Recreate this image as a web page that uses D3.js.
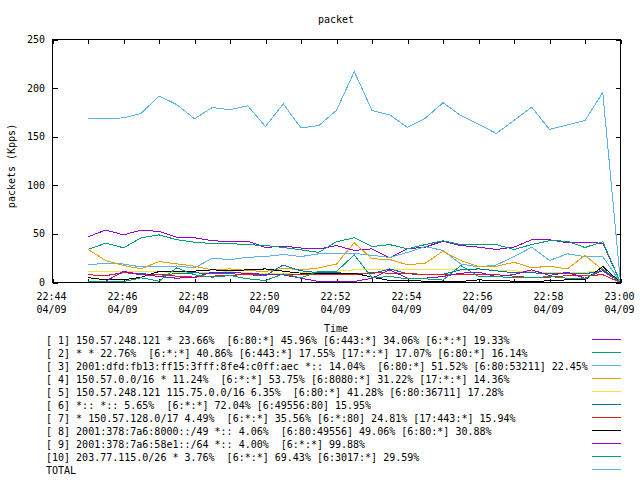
<!DOCTYPE html>
<html>
<head>
<meta charset="utf-8">
<script src="https://cdn.jsdelivr.net/npm/d3@7"></script>
<style>
  html, body { margin: 0; padding: 0; background: #fff; }
  svg { display: block; }
  text { font-family: "DejaVu Sans Mono", "Liberation Mono", monospace; font-size: 10px; fill: #000; }
</style>
</head>
<body>
<svg id="chart" width="640" height="480"></svg>
<script>
const chartTitle = "packet";
const yAxisLabel = "packets (Kpps)";
const xAxisLabel = "Time";
const dateLabel = "04/09";

const times = ["22:45:00","22:45:30","22:46:00","22:46:30","22:47:00","22:47:30","22:48:00","22:48:30",
  "22:49:00","22:49:30","22:50:00","22:50:30","22:51:00","22:51:30","22:52:00","22:52:30",
  "22:53:00","22:53:30","22:54:00","22:54:30","22:55:00","22:55:30","22:56:00","22:56:30",
  "22:57:00","22:57:30","22:58:00","22:58:30","22:59:00","22:59:30","23:00:00"];

const yTicks = [0, 50, 100, 150, 200, 250];

const s1 = [47,54,49,54,52.5,46.5,46,43,42,42.5,36,37.5,35.5,34.5,38,33,34.6,25.4,34.6,36.4,42.5,38,36.4,34,36.4,44,44,41,41,40.5,0];
const s2 = [34,40.5,35.7,46,49,44,41.5,40,40,39,38,36,33.6,31,42,46,37,39,34.6,39,43,39,39,39,34,39,43,42.5,36,42,0];
const s3 = [18,20,19,16,16.5,17,15,25,23.5,26,26.7,28.8,26.7,29.5,29.5,30,28,25.7,31,37,33,19,16,18,26.7,36.3,22.6,29.5,26.7,26.7,0];
const s4 = [34,22.6,17.5,14,21.6,19.2,16.8,13,14,12.3,11.3,14.7,13,15,19,40.8,24.4,23.7,18.2,19.9,32.2,22.6,16.5,16.5,20.9,15.1,16.8,14,27.8,13,0];
const s5 = [11,11,11,11,11,10.5,10,10.5,11,10,9,9.5,10,11,11.5,13,13,13,13,13,13,13,13,12.8,12,11,10.5,10.5,10.5,12,0];
const s6 = [8,7,10,9,8,9,10,9,9,8,7,18,12,10,10,9,9,14,9,8,8.5,13,14,12,10,10,9,9,9,12,0];
const s7 = [8,7,10.5,8,8,6.5,5.5,6.5,7.5,8,8,8.5,8.5,8,8,8,10.5,9.5,9,8.5,8.5,8.5,8,8,6.5,5,5.5,7,7,8,0];
const s8 = [5,2.7,2.7,5.5,11.3,11.3,11.7,13,12.3,13,14,11.6,9.6,9,9.6,9.6,5.5,2,2,1.4,1.4,1,2.7,2,1.4,0.5,2,2.7,2.7,16.5,0];
const s9 = [0.3,1.4,11.5,8.2,6.2,4.4,5.5,10.6,10,9.6,8.2,7.9,4.4,1,1,1,4.4,13,4.4,4.4,6.2,9.6,10.6,6.2,8.2,13,7.2,10.6,4.4,12.3,0];
const s10 = [1,1,1,4.8,1.4,15.1,7.9,5.5,7.2,3.8,2,8.9,4.8,11.6,11.3,28.5,4.8,6.2,3.8,3.8,2.5,17.5,6.2,6.2,4.8,4.8,6.2,4.4,3.8,14,0];
const total = [168.4,168.4,169.4,174,192,183,168.4,180,177.7,181.8,160.5,183.8,159,161.5,177,217,177,172.5,159.5,169,185,171.8,163,153.3,166.7,180.4,157.4,162.2,166.7,195.5,0];

const seriesNames = [
  "[ 1] 150.57.248.121 * 23.66%  [6:80:*] 45.96% [6:443:*] 34.06% [6:*:*] 19.33%",
  "[ 2] * * 22.76%  [6:*:*] 40.86% [6:443:*] 17.55% [17:*:*] 17.07% [6:80:*] 16.14%",
  "[ 3] 2001:dfd:fb13:ff15:3fff:8fe4:c0ff:aec *:: 14.04%  [6:80:*] 51.52% [6:80:53211] 22.45%",
  "[ 4] 150.57.0.0/16 * 11.24%  [6:*:*] 53.75% [6:8080:*] 31.22% [17:*:*] 14.36%",
  "[ 5] 150.57.248.121 115.75.0.0/16 6.35%  [6:80:*] 41.28% [6:80:36711] 17.28%",
  "[ 6] *:: *:: 5.65%  [6:*:*] 72.04% [6:49556:80] 15.95%",
  "[ 7] * 150.57.128.0/17 4.49%  [6:*:*] 35.56% [6:*:80] 24.81% [17:443:*] 15.94%",
  "[ 8] 2001:378:7a6:8000::/49 *:: 4.06%  [6:80:49556] 49.06% [6:80:*] 30.88%",
  "[ 9] 2001:378:7a6:58e1::/64 *:: 4.00%  [6:*:*] 99.88%",
  "[10] 203.77.115.0/26 * 3.76%  [6:*:*] 69.43% [6:3017:*] 29.59%",
  "TOTAL"
];
const seriesColors = ["#9400D3","#009E73","#56B4E9","#E69F00","#F0E442","#0072B2","#E51E10","#000000","#9400D3","#009E73","#56B4E9"];
const seriesValues = [s1, s2, s3, s4, s5, s6, s7, s8, s9, s10, total];

const svg = d3.select("#chart");
const L = 52.5, R = 620.5, T = 39.5, B = 282.5;
const parse = d3.timeParse("%H:%M:%S");
const tDates = times.map(parse);

const x = d3.scaleTime().domain([parse("22:44:00"), parse("23:00:00")]).range([L, R]);
const y = d3.scaleLinear().domain([0, 250]).range([B, T]);

// title
svg.append("text").attr("x", 336).attr("y", 23).attr("text-anchor", "middle").text(chartTitle);

// y label
svg.append("text").attr("transform", "translate(15,166) rotate(-90)").attr("text-anchor", "middle").text(yAxisLabel);

// x label
svg.append("text").attr("x", 336).attr("y", 332).attr("text-anchor", "middle").text(xAxisLabel);

const minuteTicks = d3.timeMinute.every(1).range(parse("22:44:00"), parse("23:00:30"));

// axes ticks (inward, mirrored)
const g = svg.append("g").attr("shape-rendering", "crispEdges");
g.append("g").attr("transform", `translate(0,${B})`)
  .call(d3.axisBottom(x).tickValues(minuteTicks).tickSize(-4).tickFormat(""))
  .call(a => a.select(".domain").remove());
g.append("g").attr("transform", `translate(0,${T})`)
  .call(d3.axisTop(x).tickValues(minuteTicks).tickSize(-4).tickFormat(""))
  .call(a => a.select(".domain").remove());
g.append("g").attr("transform", `translate(${L},0)`)
  .call(d3.axisLeft(y).tickValues(yTicks).tickSize(-5).tickFormat(""))
  .call(a => a.select(".domain").remove());
g.append("g").attr("transform", `translate(${R},0)`)
  .call(d3.axisRight(y).tickValues(yTicks).tickSize(-5).tickFormat(""))
  .call(a => a.select(".domain").remove());
g.selectAll(".tick line").attr("stroke", "#000");

// y tick labels
svg.selectAll(".ylab").data(yTicks).join("text")
  .attr("class", "ylab")
  .attr("x", 45).attr("y", d => y(d) + 3.5)
  .attr("text-anchor", "end")
  .text(d => d);

// x tick labels every 2 minutes
const labelTicks = minuteTicks.filter(d => d.getMinutes() % 2 === 0);
const fmt = d3.timeFormat("%H:%M");
const xl = svg.selectAll(".xlab").data(labelTicks).join("text")
  .attr("class", "xlab").attr("text-anchor", "middle");
xl.append("tspan").attr("x", d => x(d) - 1).attr("y", 299.5).text(d => fmt(d));
xl.append("tspan").attr("x", d => x(d) - 1).attr("y", 312.5).text(dateLabel);

// series lines
const line = d3.line().x((d, i) => x(tDates[i])).y(d => y(d));
const lines = svg.append("g").attr("clip-path", null);
seriesValues.forEach((vals, k) => {
  lines.append("path")
    .attr("d", line(vals))
    .attr("fill", "none")
    .attr("stroke", seriesColors[k])
    .attr("stroke-width", 1)
    .attr("shape-rendering", "crispEdges");
});

// border
svg.append("rect").attr("x", L).attr("y", T).attr("width", R - L).attr("height", B - T)
  .attr("fill", "none").attr("stroke", "#000").attr("stroke-width", 1).attr("shape-rendering", "crispEdges");

// legend
const leg = svg.append("g");
seriesNames.forEach((name, k) => {
  const cy = 340 + 13 * k;
  leg.append("text").attr("x", 46).attr("y", cy + 3.5).attr("xml:space", "preserve").style("white-space", "pre").text(name);
  leg.append("line").attr("x1", 592).attr("x2", 621).attr("y1", cy - 0.5).attr("y2", cy - 0.5)
    .attr("stroke", seriesColors[k]).attr("stroke-width", 1).attr("shape-rendering", "crispEdges");
});
</script>
</body>
</html>
